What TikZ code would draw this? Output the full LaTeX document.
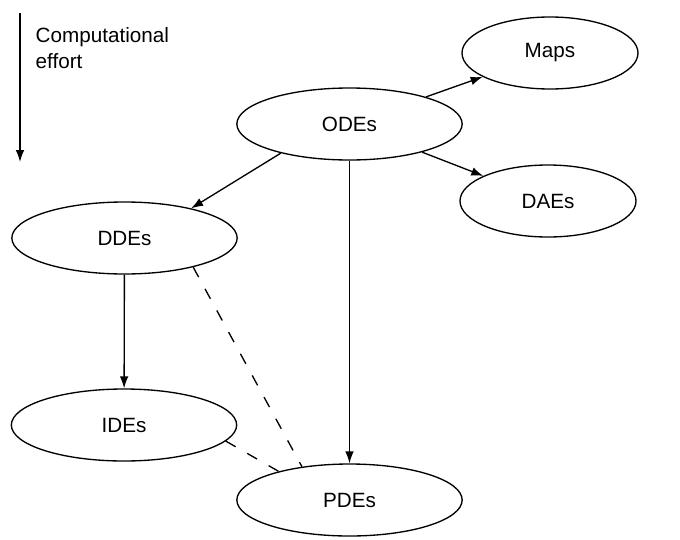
\documentclass[tikz,border=0pt]{standalone}
\usepackage{fontspec}
\setmainfont{Liberation Sans}
\usetikzlibrary{arrows.meta,shapes.geometric}

\begin{document}
\begin{tikzpicture}[x=0.75pt,y=-0.75pt,line width=1pt,>={Latex[length=9pt,width=6.5pt]},
    eq/.style={draw,ellipse,inner sep=0pt,minimum width=169pt,minimum height=54pt,
        font=\fontsize{15.5}{18}\selectfont},
    eqsmall/.style={eq,minimum width=132pt}]

    \useasboundingbox (0,0) rectangle (680,539);

    \node[eq] (ODE) at (349.5,124) {ODEs};
    \node[eqsmall] (Map) at (550,53) {Maps};
    \node[eqsmall] (DAE) at (548,201) {DAEs};
    \node[eq] (DDE) at (124.5,238) {DDEs};
    \node[eq] (IDE) at (124,425) {IDEs};
    \node[eq] (PDE) at (349.5,500) {PDEs};

    \coordinate (E1) at (20,13);
    \coordinate (E2) at (20,162);
    \draw[->] (E1) -- (E2);
    \node[anchor=north west,align=left,inner sep=0pt,
        font=\fontsize{15.5}{19.5}\selectfont] (effort) at (35,27) {Computational\\effort};

    \draw[->] (ODE) -- (Map);
    \draw[->] (ODE) -- (DAE);
    \draw[->] (ODE.203) -- (DDE.24);
    \draw[->] (ODE) -- (PDE);
    \draw[->] (DDE) -- (IDE);
    \draw[dash pattern=on 8.5pt off 10pt] (DDE.-23) -- (PDE.145);
    \draw[dash pattern=on 8.5pt off 10pt] (IDE.-9) -- (PDE.158);
        \end{tikzpicture}
\end{document}
